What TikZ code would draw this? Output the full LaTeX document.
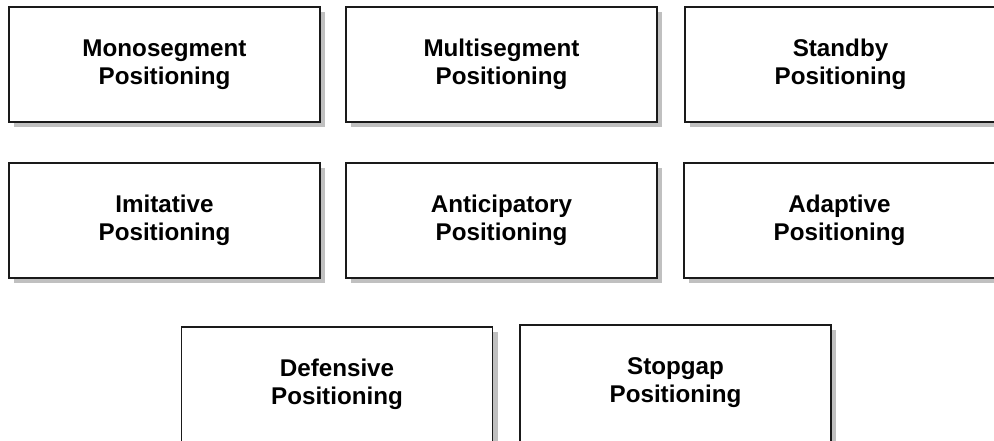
\documentclass[tikz,border=0pt]{standalone}
\usepackage{fontspec}
\setmainfont{Liberation Sans}
\usetikzlibrary{shadows}
\definecolor{boxline}{HTML}{1A1A1A}
\definecolor{shade}{HTML}{C0C0C0}
\tikzset{
  posbox/.style={
    draw=boxline, line width=1.6pt, fill=white, rectangle,
    minimum width=311pt, minimum height=115pt, inner sep=0pt,
    align=center, font=\fontsize{24.2pt}{28pt}\selectfont\bfseries,
    drop shadow={shadow xshift=5pt, shadow yshift=-5pt, fill=shade, opacity=1}
  },
  % taller box running off the lower edge; the extra depth keeps the text high
  tallbox/.style={posbox, minimum height=155pt, text depth=45pt}
}
\begin{document}
\begin{tikzpicture}[x=1pt,y=-1pt]
  \useasboundingbox (0,0) rectangle (994,440);
  % first row
  \node[posbox] (mono)  at (164.5,64.5) {Monosegment\\Positioning};
  \node[posbox] (multi) at (501.5,64.5) {Multisegment\\Positioning};
  \node[posbox] (stand) at (840.5,64.5) {Standby\\Positioning};
  % second row
  \node[posbox] (imit)  at (164.5,220.5) {Imitative\\Positioning};
  \node[posbox] (antic) at (501.5,220.5) {Anticipatory\\Positioning};
  \node[posbox] (adapt) at (839.5,220.5) {Adaptive\\Positioning};
  % third row
  \node[tallbox] (defen) at (337,404.5) {Defensive\\Positioning};
  \node[tallbox] (stopg) at (675.5,402.5) {Stopgap\\Positioning};
\end{tikzpicture}
\end{document}
